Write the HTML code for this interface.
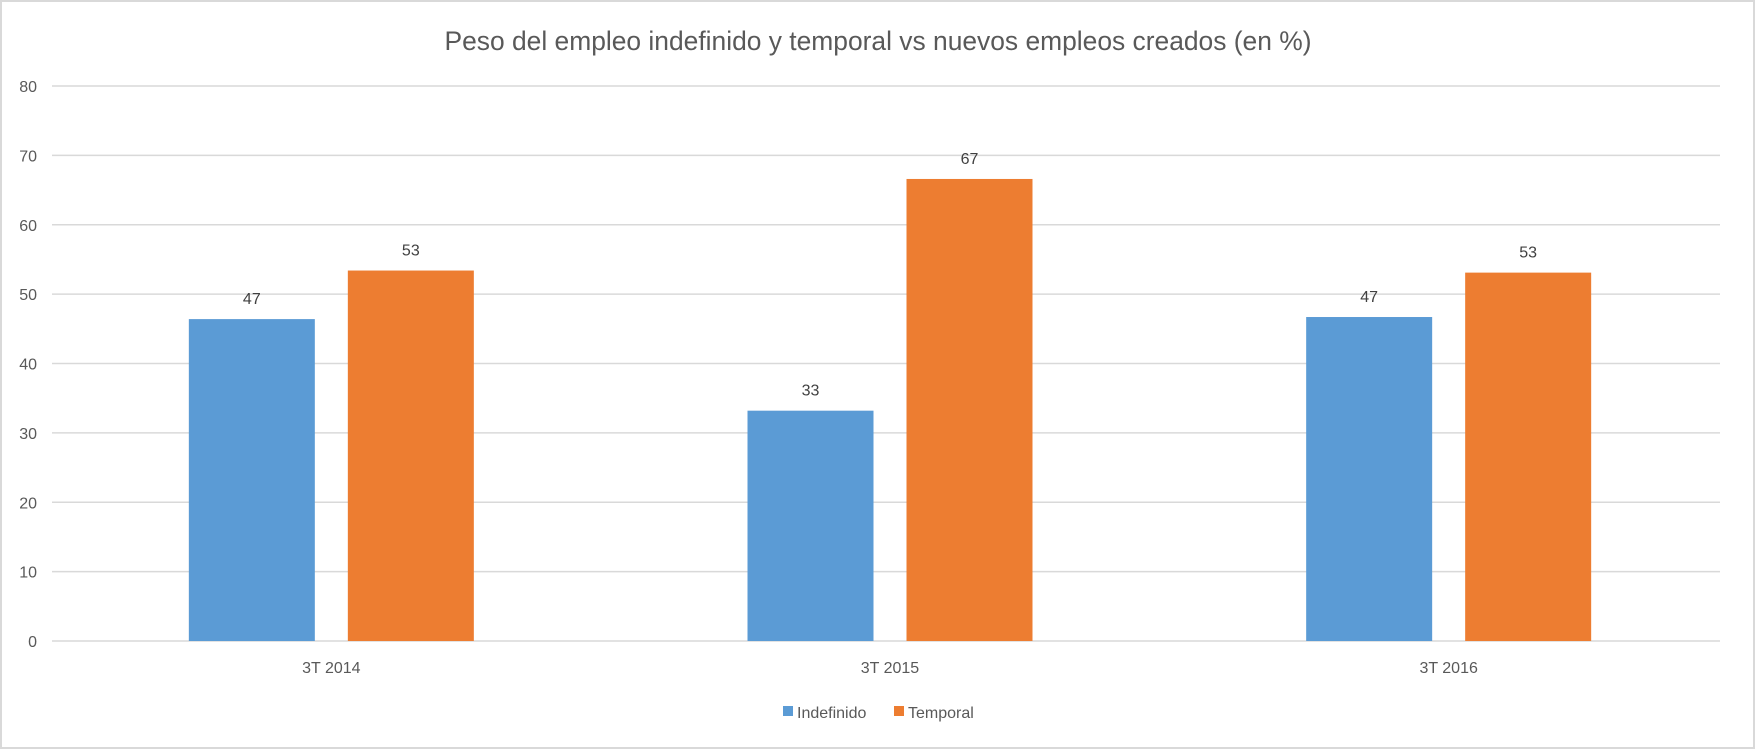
<!DOCTYPE html>
<html><head><meta charset="utf-8"><style>
html,body{margin:0;padding:0;background:#fff;}
svg{display:block;font-family:"Liberation Sans",sans-serif;}
</style></head><body>
<svg id="chart" width="1755" height="749" viewBox="0 0 1755 749">
<rect x="1" y="1" width="1753" height="747" fill="#fff" stroke="#d9d9d9" stroke-width="2"/>
<text x="878" y="50" text-anchor="middle" font-size="26.4" fill="#595959">Peso del empleo indefinido y temporal vs nuevos empleos creados (en %)</text>
<g id="grid"></g><g id="bars"></g><g id="labels"></g>
<g>
<rect x="783" y="706" width="10" height="10" fill="#5b9bd5"/>
<text x="797" y="718" font-size="16" fill="#595959">Indefinido</text>
<rect x="894" y="706" width="10" height="10" fill="#ed7d31"/>
<text x="908" y="718" font-size="16" fill="#595959">Temporal</text>
</g>
</svg>
<script>
const categories = ["3T 2014","3T 2015","3T 2016"];
const indefinido = [46.4, 33.2, 46.7];
const temporal = [53.4, 66.6, 53.1];
const indefinidoLabels = ["47","33","47"];
const temporalLabels = ["53","67","53"];
const yTicks = [0,10,20,30,40,50,60,70,80];

const NS="http://www.w3.org/2000/svg";
const left=52, right=1720, catRight=1728, y0=641, y80=86;
const y=v=>y0-(y0-y80)*v/80;
const catW=(catRight-left)/categories.length;
const cx=i=>left+catW*(i+0.5);
const barW=126, gap=33;
function mk(tag,attrs,parent){const e=document.createElementNS(NS,tag);for(const k in attrs)e.setAttribute(k,attrs[k]);parent.appendChild(e);return e;}
const grid=document.getElementById('grid'),bars=document.getElementById('bars'),labels=document.getElementById('labels');
yTicks.forEach(t=>{
  const l=mk('line',{x1:left,x2:right,y1:y(t),y2:y(t),stroke:'#d9d9d9','stroke-width':1.5},grid);
  
  
  const tx=mk('text',{x:37,y:y(t)+6,'text-anchor':'end','font-size':16,fill:'#595959'},grid);
  tx.textContent=t;
  
  
});
categories.forEach((c,i)=>{
  const bx=cx(i)-gap/2-barW;
  const b1=mk('rect',{x:bx,y:y(indefinido[i]),width:barW,height:y0-y(indefinido[i]),fill:'#5b9bd5'},bars);
  
  
  const ox=cx(i)+gap/2;
  const b2=mk('rect',{x:ox,y:y(temporal[i]),width:barW,height:y0-y(temporal[i]),fill:'#ed7d31'},bars);
  
  
  const t1=mk('text',{x:bx+barW/2,y:y(indefinido[i])-15,'text-anchor':'middle','font-size':16,fill:'#404040'},labels);
  t1.textContent=indefinidoLabels[i];
  
  
  const t2=mk('text',{x:ox+barW/2,y:y(temporal[i])-15,'text-anchor':'middle','font-size':16,fill:'#404040'},labels);
  t2.textContent=temporalLabels[i];
  
  
  const ct=mk('text',{x:cx(i),y:673,'text-anchor':'middle','font-size':16,fill:'#595959'},labels);
  ct.textContent=c;
  
  
});
</script>
</body></html>
